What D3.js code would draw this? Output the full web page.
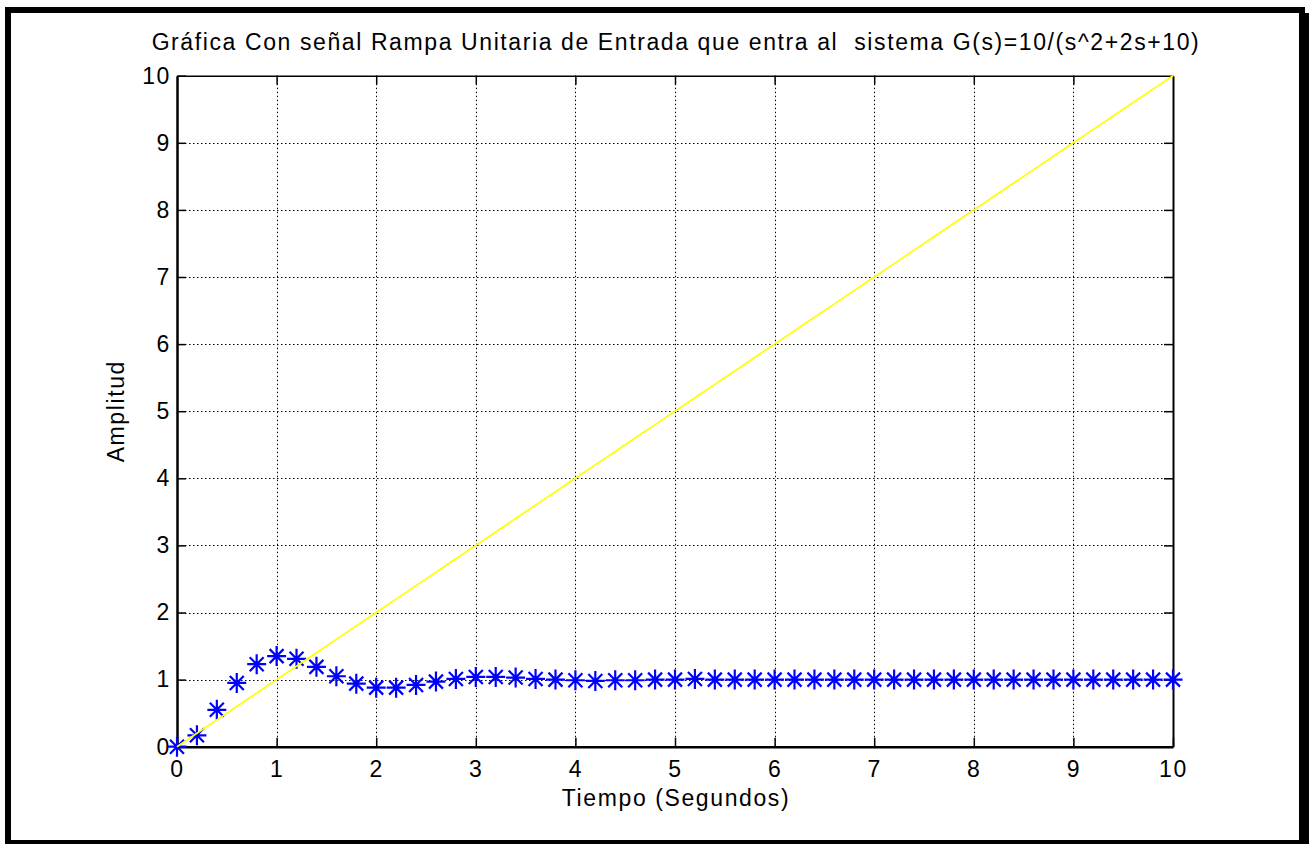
<!DOCTYPE html>
<html>
<head>
<meta charset="utf-8">
<script src="https://cdn.jsdelivr.net/npm/d3@7"></script>
<style>
  html, body { margin: 0; padding: 0; background: #fff; }
  svg { display: block; }
  text { font-family: "Liberation Sans", Arial, sans-serif; fill: #000; }
</style>
</head>
<body>
<svg id="chart" width="1309" height="844"></svg>
<script>
// Sample times (s)
const time = [0, 0.2, 0.4, 0.6, 0.8, 1.0, 1.2, 1.4, 1.6, 1.8, 2.0, 2.2, 2.4, 2.6, 2.8, 3.0,
  3.2, 3.4, 3.6, 3.8, 4.0, 4.2, 4.4, 4.6, 4.8, 5.0, 5.2, 5.4, 5.6, 5.8, 6.0, 6.2, 6.4, 6.6,
  6.8, 7.0, 7.2, 7.4, 7.6, 7.8, 8.0, 8.2, 8.4, 8.6, 8.8, 9.0, 9.2, 9.4, 9.6, 9.8, 10.0];

// Unit ramp input signal
const rampInput = [0, 0.2, 0.4, 0.6, 0.8, 1.0, 1.2, 1.4, 1.6, 1.8, 2.0, 2.2, 2.4, 2.6, 2.8, 3.0,
  3.2, 3.4, 3.6, 3.8, 4.0, 4.2, 4.4, 4.6, 4.8, 5.0, 5.2, 5.4, 5.6, 5.8, 6.0, 6.2, 6.4, 6.6,
  6.8, 7.0, 7.2, 7.4, 7.6, 7.8, 8.0, 8.2, 8.4, 8.6, 8.8, 9.0, 9.2, 9.4, 9.6, 9.8, 10.0];

// System output (asterisk markers)
const systemOutput = [0, 0.17, 0.55, 0.95, 1.23, 1.35, 1.31, 1.19, 1.05, 0.94, 0.88, 0.88,
  0.92, 0.97, 1.01, 1.04, 1.04, 1.03, 1.01, 1.00, 0.99, 0.98, 0.99, 0.99, 1.00, 1.00, 1.01,
  1.00, 1.00, 1.00, 1.00, 1.00, 1.00, 1.00, 1.00, 1.00, 1.00, 1.00, 1.00, 1.00, 1.00, 1.00,
  1.00, 1.00, 1.00, 1.00, 1.00, 1.00, 1.00, 1.00, 1.00];

const xTicks = [0, 1, 2, 3, 4, 5, 6, 7, 8, 9, 10];
const yTicks = [0, 1, 2, 3, 4, 5, 6, 7, 8, 9, 10];

const titleText = "Gráfica Con señal Rampa Unitaria de Entrada que entra al\u00a0 sistema G(s)=10/(s^2+2s+10)";
const xLabelText = "Tiempo (Segundos)";
const yLabelText = "Amplitud";

const FONT = "'Liberation Sans', Arial, sans-serif";
const FS = 23, LS = 1.6;

const plot = { left: 177, right: 1173, top: 75.7, bottom: 746.7 };

const svg = d3.select("#chart");

// Figure frame
const frame = svg.append("g").attr("fill", "#000");
frame.append("rect").attr("x", 5).attr("y", 7).attr("width", 1300).attr("height", 6);
frame.append("rect").attr("x", 5).attr("y", 7).attr("width", 6).attr("height", 834);
frame.append("rect").attr("x", 1299).attr("y", 13).attr("width", 10).attr("height", 831);
frame.append("rect").attr("x", 5).attr("y", 840).attr("width", 1304).attr("height", 4);

const x = d3.scaleLinear().domain([0, 10]).range([plot.left, plot.right]);
const y = d3.scaleLinear().domain([0, 10]).range([plot.bottom, plot.top]);

// Dotted grid
const grid = svg.append("g")
  .attr("stroke", "#000").attr("stroke-width", 1).attr("stroke-dasharray", "1.5,2.5");
grid.selectAll("line.gx").data(xTicks.slice(1, -1)).join("line")
  .attr("x1", d => Math.round(x(d)) + 0.5).attr("x2", d => Math.round(x(d)) + 0.5)
  .attr("y1", plot.top).attr("y2", plot.bottom);
grid.selectAll("line.gy").data(yTicks.slice(1, -1)).join("line")
  .attr("y1", d => Math.round(y(d)) + 0.5).attr("y2", d => Math.round(y(d)) + 0.5)
  .attr("x1", plot.left).attr("x2", plot.right);

// Axes with inward ticks on all four sides
const tickLen = 9;
const bottomAxis = d3.axisBottom(x).tickValues(xTicks).tickSizeInner(-tickLen).tickSizeOuter(0).tickPadding(14);
const leftAxis = d3.axisLeft(y).tickValues(yTicks).tickSizeInner(-tickLen).tickSizeOuter(0).tickPadding(6);
const topAxis = d3.axisTop(x).tickValues(xTicks.slice(1, -1)).tickSizeInner(-tickLen).tickSizeOuter(0).tickFormat("");
const rightAxis = d3.axisRight(y).tickValues(yTicks.slice(1, -1)).tickSizeInner(-tickLen).tickSizeOuter(0).tickFormat("");

function styleAxis(g, width) {
  g.select(".domain").attr("stroke", "#000").attr("stroke-width", width);
  g.selectAll(".tick line").attr("stroke", "#000").attr("stroke-width", 1.5);
  g.selectAll(".tick text").attr("font-size", FS).attr("letter-spacing", LS)
    .attr("font-family", FONT).attr("fill", "#000");
}

svg.append("g").attr("transform", `translate(0,${plot.top})`).call(topAxis).call(g => styleAxis(g, 1.5));
svg.append("g").attr("transform", `translate(${plot.right},0)`).call(rightAxis).call(g => styleAxis(g, 2));
svg.append("g").attr("transform", `translate(0,${plot.bottom})`).call(bottomAxis).call(g => styleAxis(g, 2.5));
svg.append("g").attr("transform", `translate(${plot.left},0)`).call(leftAxis).call(g => styleAxis(g, 2.5));

// Output samples as asterisks
const star = "M-9.5,0H9.5M0,-10V10M-7,-7L7,7M-7,7L7,-7";
svg.append("g").selectAll("path").data(time).join("path")
  .attr("transform", (d, i) => `translate(${x(d)},${y(systemOutput[i])})`)
  .attr("d", star)
  .attr("stroke", "#0000ff").attr("stroke-width", 2.2).attr("fill", "none");

// Ramp input line
const line = d3.line().x((d, i) => x(time[i])).y(d => y(d));
svg.append("path").datum(rampInput)
  .attr("d", line)
  .attr("fill", "none").attr("stroke", "#ffff00").attr("stroke-width", 1.7);

// Title and axis labels
const labels = svg.append("g").attr("font-size", FS).attr("letter-spacing", LS).attr("font-family", FONT);
labels.append("text").attr("x", (plot.left + plot.right) / 2 + 1).attr("y", 50)
  .attr("text-anchor", "middle").text(titleText);
labels.append("text").attr("x", (plot.left + plot.right) / 2 + 1).attr("y", 806)
  .attr("text-anchor", "middle").text(xLabelText);
labels.append("text")
  .attr("transform", `translate(124,${(plot.top + plot.bottom) / 2}) rotate(-90)`)
  .attr("text-anchor", "middle").text(yLabelText);
</script>
</body>
</html>
